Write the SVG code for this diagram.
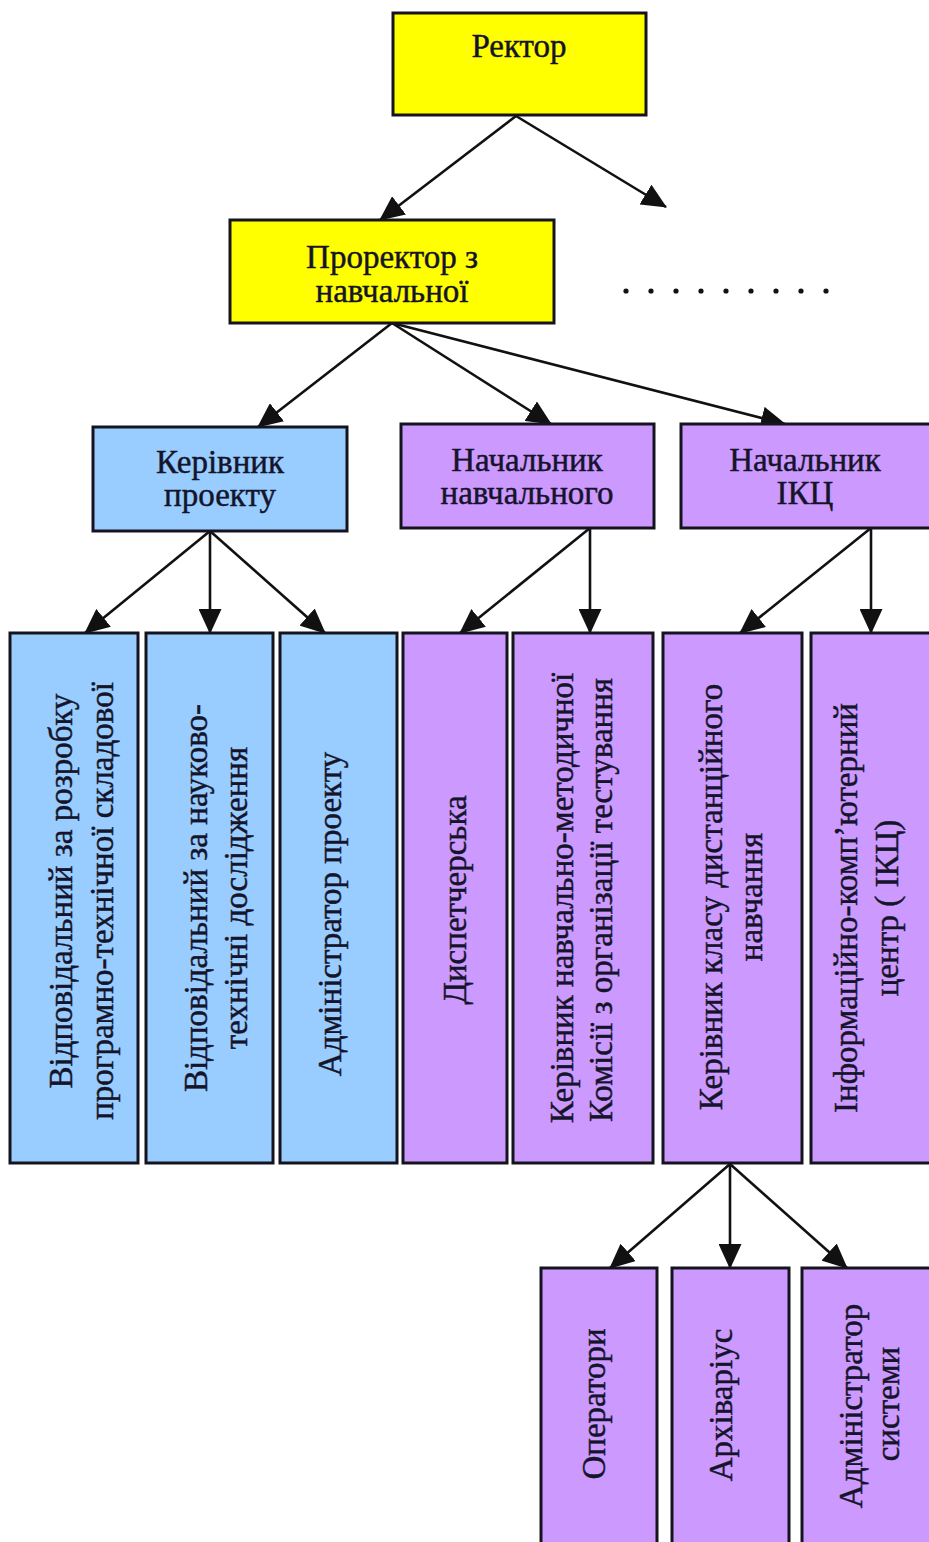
<svg xmlns="http://www.w3.org/2000/svg" width="929" height="1542" viewBox="0 0 929 1542">
<style>
.box{stroke:#14141e;stroke-width:3}
.y{fill:#FFFF00}
.b{fill:#99CCFF}
.p{fill:#CC99FF}
text{font-family:"Liberation Serif","Times New Roman",serif;font-size:33px;fill:#14142a;stroke:#14142a;stroke-width:0.45;text-anchor:middle}
.con{stroke:#111;stroke-width:2.6;fill:none;marker-end:url(#ah)}
</style>
<defs>
<marker id="ah" markerUnits="userSpaceOnUse" markerWidth="25" markerHeight="23" refX="24" refY="11.5" orient="auto" viewBox="0 0 25 23">
<path d="M0,0 L25,11.5 L0,23 z" fill="#111"/>
</marker>
</defs>
<rect width="929" height="1542" fill="#fff"/>
<g id="connectors">
<line class="con" x1="516" y1="116" x2="380" y2="220"/>
<line class="con" x1="516" y1="116" x2="666" y2="207"/>
<line class="con" x1="392" y1="323" x2="258" y2="427"/>
<line class="con" x1="392" y1="323" x2="551" y2="424"/>
<line class="con" x1="392" y1="323" x2="785" y2="424"/>
<line class="con" x1="210" y1="531" x2="85" y2="633"/>
<line class="con" x1="210" y1="531" x2="210" y2="633"/>
<line class="con" x1="210" y1="531" x2="325" y2="633"/>
<line class="con" x1="590" y1="528" x2="460" y2="633"/>
<line class="con" x1="590" y1="528" x2="590" y2="633"/>
<line class="con" x1="871" y1="528" x2="740" y2="633"/>
<line class="con" x1="871" y1="528" x2="871" y2="633"/>
<line class="con" x1="730" y1="1164" x2="610" y2="1268"/>
<line class="con" x1="730" y1="1164" x2="730" y2="1268"/>
<line class="con" x1="730" y1="1164" x2="847" y2="1268"/>
</g>
<g id="dots" fill="#111">
<circle cx="626" cy="291" r="2.6"/><circle cx="651" cy="291" r="2.6"/><circle cx="676" cy="291" r="2.6"/><circle cx="701" cy="291" r="2.6"/><circle cx="726" cy="291" r="2.6"/><circle cx="751" cy="291" r="2.6"/><circle cx="776" cy="291" r="2.6"/><circle cx="801" cy="291" r="2.6"/><circle cx="826" cy="291" r="2.6"/>
</g>
<g id="rector"><rect class="box y" x="393" y="13" width="253" height="102"/><text x="519" y="57">Ректор</text></g>
<g id="prorector"><rect class="box y" x="230" y="220" width="324" height="103"/><text x="392" y="268">Проректор з</text><text x="392" y="302">навчальної</text></g>
<g id="kerivnyk-proektu"><rect class="box b" x="93" y="427" width="254" height="104"/><text x="220" y="473">Керівник</text><text x="220" y="506">проекту</text></g>
<g id="nachalnyk-navch"><rect class="box p" x="401" y="424" width="253" height="104"/><text x="527" y="471">Начальник</text><text x="527" y="504">навчального</text></g>
<g id="nachalnyk-ikc"><rect class="box p" x="681" y="424" width="252" height="104"/><text x="805" y="471">Начальник</text><text x="805" y="504">ІКЦ</text></g>
<g id="vidp-rozrobku"><rect class="box b" x="10" y="633" width="128" height="530"/><text transform="translate(72,891) rotate(-90)">Відповідальний  за розробку</text><text transform="translate(113,901) rotate(-90)">програмно-технічної  складової</text></g>
<g id="vidp-doslidzhennia"><rect class="box b" x="146" y="633" width="127" height="530"/><text transform="translate(207,898) rotate(-90)">Відповідальний  за науково-</text><text transform="translate(247,898) rotate(-90)">технічні  дослідження</text></g>
<g id="admin-proektu"><rect class="box b" x="280" y="633" width="117" height="530"/><text transform="translate(341,914) rotate(-90)">Адміністратор проекту</text></g>
<g id="dyspetcherska"><rect class="box p" x="403" y="633" width="104" height="530"/><text transform="translate(466,900) rotate(-90)">Диспетчерська</text></g>
<g id="kerivnyk-komisii"><rect class="box p" x="513" y="633" width="140" height="530"/><text transform="translate(573,898) rotate(-90)">Керівник навчально-методичної</text><text transform="translate(612,900) rotate(-90)">Комісії з організації тестування</text></g>
<g id="kerivnyk-klasu"><rect class="box p" x="663" y="633" width="139" height="530"/><text transform="translate(722,897) rotate(-90)">Керівник класу дистанційного</text><text transform="translate(762,897) rotate(-90)">навчання</text></g>
<g id="ikc"><rect class="box p" x="811" y="633" width="120" height="530"/><text transform="translate(857,908) rotate(-90)">Інформаційно-комп’ютерний</text><text transform="translate(898,908) rotate(-90)">центр ( ІКЦ)</text></g>
<g id="operatory"><rect class="box p" x="541" y="1268" width="116" height="280"/><text transform="translate(605,1404) rotate(-90)">Оператори</text></g>
<g id="arkhivarius"><rect class="box p" x="672" y="1268" width="117" height="280"/><text transform="translate(732,1405) rotate(-90)">Архіваріус</text></g>
<g id="admin-systemy"><rect class="box p" x="802" y="1268" width="129" height="280"/><text transform="translate(862,1406) rotate(-90)">Адміністратор</text><text transform="translate(899,1404) rotate(-90)">системи</text></g>
</svg>
